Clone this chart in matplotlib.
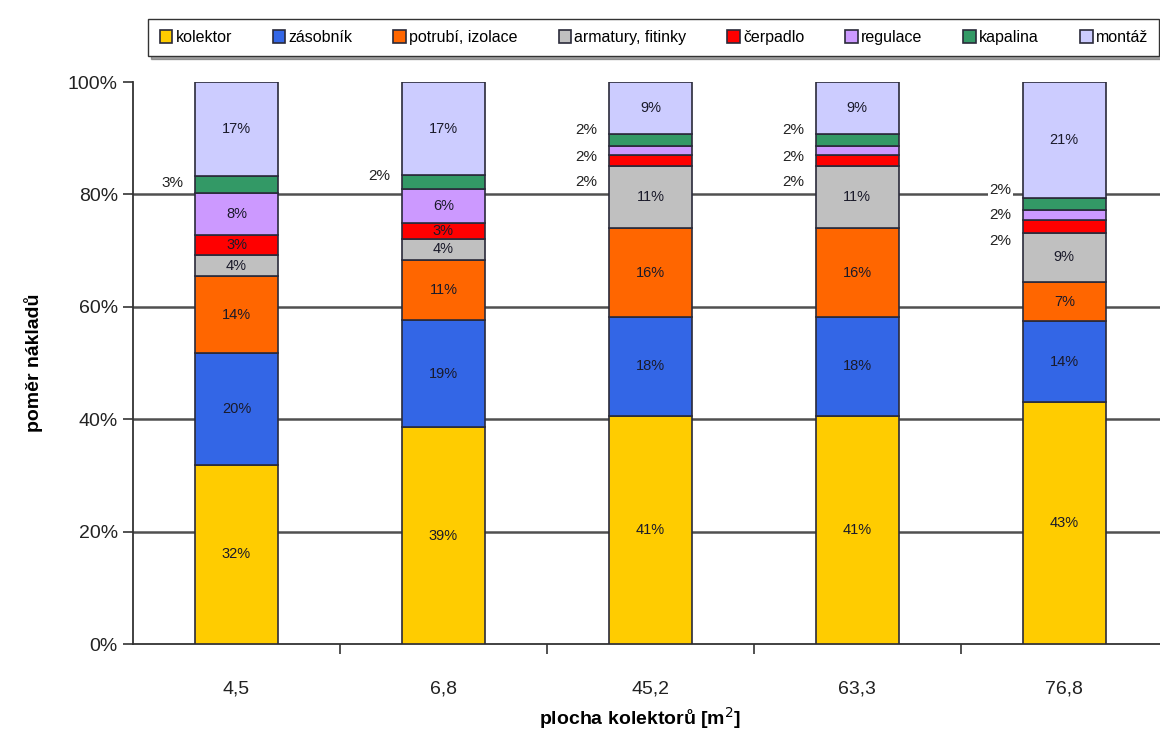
import matplotlib
matplotlib.use("Agg")
import matplotlib.pyplot as plt
import numpy as np

# Cost shares (%) for each collector area
areas = ["4,5", "6,8", "45,2", "63,3", "76,8"]
components = ["kolektor", "zásobník", "potrubí, izolace", "armatury, fitinky",
              "čerpadlo", "regulace", "kapalina", "montáž"]

kolektor = [31.9, 38.6, 40.6, 40.6, 43.0]
zasobnik = [19.9, 19.0, 17.6, 17.6, 14.4]
potrubi = [13.6, 10.8, 15.8, 15.8, 7.0]
armatury = [3.9, 3.6, 11.0, 11.0, 8.8]
cerpadlo = [3.4, 3.0, 2.1, 2.1, 2.3]
regulace = [7.6, 6.0, 1.6, 1.6, 1.8]
kapalina = [3.0, 2.4, 2.1, 2.1, 2.1]
montaz = [16.7, 16.6, 9.2, 9.2, 20.6]

series = [kolektor, zasobnik, potrubi, armatury, cerpadlo, regulace, kapalina, montaz]
colors = ["#FFCC00", "#3366E6", "#FF6600", "#C0C0C0", "#FF0000",
          "#CC99FF", "#339966", "#CCCCFF"]

plt.rcParams["font.family"] = ["Liberation Sans", "DejaVu Sans"]

fig = plt.figure(figsize=(11.6, 7.31), dpi=100)
ax = fig.add_axes([0.1147, 0.119, 0.892, 0.7688])

x = np.arange(len(areas))
width = 0.4
bottom = np.zeros(len(areas))
bars = []
for vals, col, name in zip(series, colors, components):
    v = np.array(vals)
    ax.bar(x, v, width, bottom=bottom, color=col, edgecolor="#2a2a3a",
           linewidth=1.2, label=name, zorder=3)
    bars.append((v, bottom.copy()))
    bottom = bottom + v

ax.set_xlim(-0.5, 4.5)
ax.set_ylim(0, 100)
ax.set_yticks(np.arange(0, 101, 20))
ax.set_yticklabels([f"{t}%" for t in range(0, 101, 20)], fontsize=14, color="#222")
ax.set_xticks(x)
ax.set_xticklabels(areas, fontsize=14, color="#222")
ax.tick_params(axis="x", length=0, pad=26)
ax.set_xticks(np.arange(0.5, 4.5, 1), minor=True)
ax.tick_params(axis="x", which="minor", length=7, width=1.2, direction="out", color="#333")
ax.tick_params(axis="y", length=7, width=1.2, direction="out", color="#333", pad=4)

for y in (20, 40, 60, 80):
    ax.axhline(y, color="#505050", linewidth=1.8, zorder=1)

for s in ("top", "right"):
    ax.spines[s].set_visible(False)
for s in ("left", "bottom"):
    ax.spines[s].set_color("#333")
    ax.spines[s].set_linewidth(1.3)

ax.set_ylabel("poměr nákladů", fontsize=14, fontweight="bold", labelpad=18)
ax.set_xlabel("plocha kolektorů [m$^2$]", fontsize=14, fontweight="bold")
ax.xaxis.set_label_coords(0.49, -0.132)
ax.xaxis.label.set_verticalalignment("center")

# value labels inside the segments
for si, (v, b0) in enumerate(bars):
    for i in range(len(areas)):
        val = v[i]
        if si == 6 or (si in (4, 5) and val < 2.5):
            continue
        ax.text(x[i], b0[i] + val / 2, f"{val:.0f}%", ha="center", va="center",
                fontsize=10.5, color="#1a1a2a", zorder=4)

# labels placed to the left of the thin segments
outside = {
    0: [(6, 82.0)],
    1: [(6, 83.3)],
    2: [(6, 91.5), (5, 86.6), (4, 82.2)],
    3: [(6, 91.5), (5, 86.6), (4, 82.2)],
    4: [(6, 80.8), (5, 76.3), (4, 71.7)],
}
for i, items in outside.items():
    for si, ypos in items:
        val = series[si][i]
        ax.text(x[i] - 0.31, ypos, f"{val:.0f}%", ha="center", va="center",
                fontsize=11, color="#222", zorder=4,
                bbox=dict(boxstyle="square,pad=0.1", fc="white", ec="none"))

leg = fig.legend(loc="upper left", bbox_to_anchor=(0.121, 0.985), ncol=8,
                 fontsize=11.5, frameon=True, fancybox=False, shadow=True,
                 handlelength=0.8, handleheight=0.8, handletextpad=0.2,
                 columnspacing=2.55, borderpad=0.7)
leg.get_frame().set_edgecolor("#333")
leg.get_frame().set_linewidth(1.0)

fig.savefig("out.png", dpi=100)
